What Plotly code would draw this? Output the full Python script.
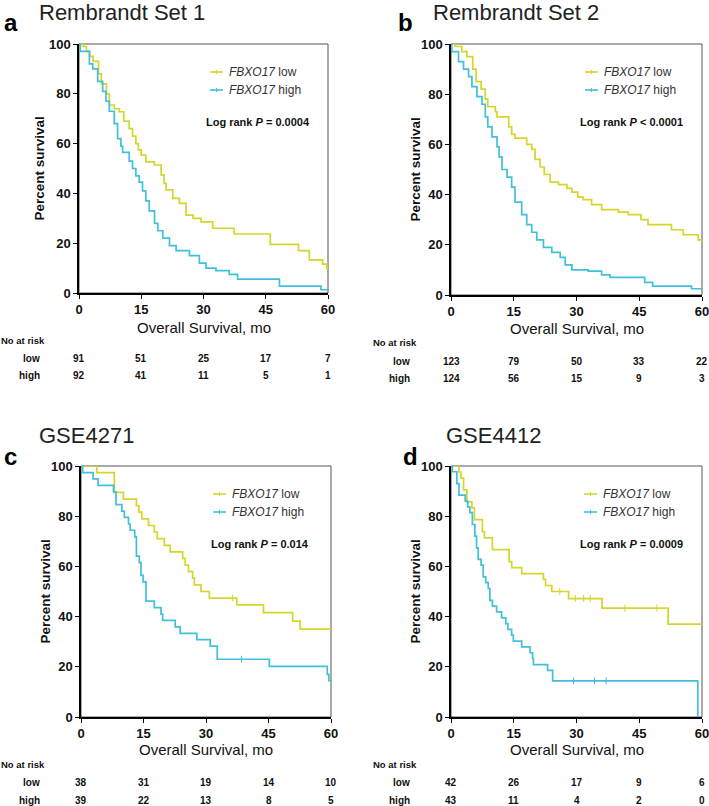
import plotly.graph_objects as go

W, H = 709, 806
FONT = "Liberation Sans"
YEL = "#d5d52c"
CYA = "#41c0dc"

# ---------------- data ----------------
titles = ["Rembrandt Set 1", "Rembrandt Set 2", "GSE4271", "GSE4412"]
letters = ["a", "b", "c", "d"]
pvals = ["Log rank <i>P</i> = 0.0004", "Log rank <i>P</i> < 0.0001",
         "Log rank <i>P</i> = 0.014", "Log rank <i>P</i> = 0.0009"]

a_low_t = [0, 1.0, 1.8, 2.6, 3.4, 4.7, 5.4, 6.6, 7.3, 8.5, 9.7, 10.8, 12.1, 12.9, 13.7, 14.3, 15.0, 16.1,
           18.2, 19.8, 20.5, 21.0, 22.6, 24.2, 25.8, 27.5, 29.4, 32.2, 37.4, 46.1, 52.9, 55.5, 58.7, 59.7, 60]
a_low_s = [100, 99, 97, 95, 93, 88, 84, 80, 75.5, 74, 72.8, 69, 66, 63, 60, 57.5, 55.4, 52.7,
           51.4, 47.4, 44, 41.4, 38, 36, 31.3, 30, 28.6, 26, 23.7, 19.5, 17, 13.3, 11.6, 9.9, 9.9]
a_high_t = [0, 0.3, 2.5, 3.3, 4.5, 5.7, 6.5, 7.3, 8.5, 9.3, 10.1, 10.5, 12.1, 12.9, 13.7, 14.5, 15.3, 16.1,
            16.9, 18.2, 19.0, 20.2, 21.8, 23.4, 26.6, 29.0, 30.6, 33.0, 36.2, 38.2, 48.3, 58.3, 60]
a_high_s = [100, 97, 92, 90, 85, 81, 77, 73, 68, 62, 59, 56.5, 53, 50, 47, 44.5, 41, 37,
            33, 28, 25, 22, 19, 17, 15, 12, 10, 9, 7.5, 5.6, 2.8, 1.3, 1.3]

b_low_t = [0, 1.0, 2.6, 3.8, 5.2, 6.0, 7.2, 8.2, 8.8, 10.6, 11.0, 13.8, 14.5, 15.3, 18.1, 19.3, 20.1, 21.3,
           22.3, 23.7, 25.7, 27.7, 28.9, 30.3, 31.6, 33.6, 36.0, 40.0, 42.4, 45.4, 47.1, 52.7, 55.5, 59.1, 60]
b_low_s = [100, 99, 97, 95, 90, 85, 82, 78, 75, 73, 71, 67, 64, 62.5, 60, 58, 54, 51,
           48, 45, 44, 42.5, 41, 39, 38, 36, 34, 33, 32, 30, 28, 26, 24, 22, 21]
b_high_t = [0, 0.2, 1.8, 3.0, 4.2, 5.0, 6.2, 7.4, 8.2, 8.8, 9.8, 11.0, 11.5, 12.2, 13.4, 14.5, 15.3, 16.9,
            18.1, 19.3, 20.5, 22.1, 24.1, 26.1, 27.3, 28.9, 32.8, 36.0, 38.0, 46.3, 48.2, 57.5, 60]
b_high_s = [100, 97, 93, 90, 87, 83, 79, 76, 71, 67, 63, 59, 55, 50, 47, 43, 37, 32,
            28, 25, 22, 19, 17, 15, 12, 10, 9.5, 8, 7, 5, 3.5, 2.5, 2.5]

c_low_t = [0, 3.8, 8.0, 10.2, 13.3, 13.9, 14.6, 16.2, 17.6, 18.3, 20.0, 21.4, 24.4, 25.0, 25.8, 26.8, 27.2,
           28.8, 30.8, 37.4, 43.8, 50.8, 52.6, 60]
c_low_s = [100, 97.4, 89.5, 86.8, 84.2, 81.6, 78.9, 76.3, 73.7, 71.1, 68.4, 65.8, 63.2, 60.5, 57.9, 55.3, 52.6,
           50.0, 47.4, 44.7, 41.6, 38.2, 35.0, 35.0]
c_high_t = [0, 0.4, 2.9, 4.1, 7.8, 8.4, 9.8, 10.4, 11.4, 11.8, 12.9, 13.3, 14.0, 14.4, 14.9, 15.6, 17.6,
            19.2, 19.6, 22.6, 23.8, 27.8, 31.0, 32.7, 45.2, 59.1, 59.5, 60]
c_high_s = [100, 97.4, 94.9, 92.3, 89.7, 84.6, 82.0, 79.5, 76.9, 74.4, 71.8, 64.1, 61.5, 56.4, 53.8, 46.2, 43.6,
            41.0, 38.5, 35.9, 33.3, 30.8, 28.2, 23.0, 20.2, 17.0, 14.5, 14.5]

d_low_t = [0, 1.9, 2.4, 3.0, 3.8, 5.0, 5.6, 7.5, 8.0, 9.9, 13.9, 14.5, 16.9, 22.1, 22.6, 24.1, 28.1, 36.1,
           51.9, 60]
d_low_s = [100, 97.6, 95.2, 90.5, 85.7, 83.3, 78.6, 73.8, 71.4, 66.7, 61.9, 59.5, 57.1, 54.8, 52.4, 50.0, 47.2, 43.4,
           37.0, 37.0]
d_high_t = [0, 0.3, 1.4, 1.9, 3.4, 4.0, 4.5, 5.1, 5.7, 6.1, 6.5, 7.2, 7.7, 8.3, 8.9, 9.3, 9.9, 10.9, 12.1,
            13.1, 13.6, 14.5, 14.9, 16.9, 18.9, 19.5, 19.7, 23.1, 24.3, 59.0]
d_high_s = [100, 97.7, 93.0, 88.4, 86.0, 83.7, 81.4, 76.7, 72.1, 67.4, 62.8, 60.5, 55.8, 53.5, 51.2, 46.5, 44.2, 41.9,
            39.5, 37.2, 34.9, 32.6, 30.2, 27.9, 25.6, 23.3, 20.9, 18.6, 14.4, 0.0]

# censored observations (visible tick marks)
c_low_cens_t, c_low_cens_s = [36.4], [47.4]
c_high_cens_t, c_high_cens_s = [38.5], [23.0]
d_low_cens_t = [26.0, 29.7, 31.7, 33.3, 41.6, 49.2]
d_low_cens_s = [50.0, 47.2, 47.2, 47.2, 43.4, 43.4]
d_high_cens_t = [29.3, 34.3, 37.1]
d_high_cens_s = [14.4, 14.4, 14.4]

risk_times = [0, 15, 30, 45, 60]
a_risk_low = [91, 51, 25, 17, 7]
a_risk_high = [92, 41, 11, 5, 1]
b_risk_low = [123, 79, 50, 33, 22]
b_risk_high = [124, 56, 15, 9, 3]
c_risk_low = [38, 31, 19, 14, 10]
c_risk_high = [39, 22, 13, 8, 5]
d_risk_low = [42, 26, 17, 9, 6]
d_risk_high = [43, 11, 4, 2, 0]

curves = [(a_low_t, a_low_s, a_high_t, a_high_s),
          (b_low_t, b_low_s, b_high_t, b_high_s),
          (c_low_t, c_low_s, c_high_t, c_high_s),
          (d_low_t, d_low_s, d_high_t, d_high_s)]
censors = [None, None,
           (c_low_cens_t, c_low_cens_s, c_high_cens_t, c_high_cens_s),
           (d_low_cens_t, d_low_cens_s, d_high_cens_t, d_high_cens_s)]
risks = [(a_risk_low, a_risk_high), (b_risk_low, b_risk_high),
         (c_risk_low, c_risk_high), (d_risk_low, d_risk_high)]

# ---------------- layout geometry (pixels) ----------------
def px(x):
    return x / W

def py(y):
    return 1 - y / H

# plot boxes: left, right, top, bottom
boxes = [(79, 328, 44, 293), (451, 702, 44, 295), (81, 331, 466, 717), (451, 702, 466, 717)]
ytitle_x = [39, 415, 45, 415]
title_pos = [(37, 12), (431, 12), (37, 435), (444, 435)]
letter_pos = [(2, 23), (396, 23), (2, 456), (401, 456)]
xtitle_y = [327, 328, 749, 749]
leg = [(210, 72), (585, 72), (213, 494), (584, 494)]
pv_pos = [(204, 122), (578, 122), (209, 544), (578, 544)]
risk_head = [(-1, 340), (371, 343), (-1, 764), (371, 764)]
risk_lbl_x = [42, 412, 42, 412]
risk_rows = [(358, 376), (361, 379), (782, 800), (782, 800)]

fig = go.Figure()
annotations = []
shapes = []


def ann(text, x, y, size, xanchor="center", yanchor="middle", xref="paper", color="#111", **kw):
    d = dict(text=text, x=x, y=y, xref=xref, yref="paper", xanchor=xanchor, yanchor=yanchor,
             showarrow=False, font=dict(family=FONT, size=size, color=color))
    d.update(kw)
    annotations.append(d)


for i in range(4):
    n = "" if i == 0 else str(i + 1)
    xa, ya = "x" + n, "y" + n
    lt, ls, ht, hs = curves[i]
    fig.add_trace(go.Scatter(x=lt, y=ls, mode="lines", line=dict(color=YEL, width=1.7, shape="hv"),
                             xaxis=xa, yaxis=ya, showlegend=False, cliponaxis=False, hoverinfo="skip"))
    fig.add_trace(go.Scatter(x=ht, y=hs, mode="lines", line=dict(color=CYA, width=1.7, shape="hv"),
                             xaxis=xa, yaxis=ya, showlegend=False, cliponaxis=False, hoverinfo="skip"))
    if censors[i] is not None:
        clt, cls, cht, chs = censors[i]
        for ct, cs, col in [(clt, cls, YEL), (cht, chs, CYA)]:
            fig.add_trace(go.Scatter(x=ct, y=cs, mode="markers", xaxis=xa, yaxis=ya, showlegend=False,
                                     hoverinfo="skip",
                                     marker=dict(symbol="line-ns", size=5, line=dict(color=col, width=1))))
    l, r, t, b = boxes[i]
    axis_common = dict(showline=True, linecolor="black", linewidth=1.5, ticks="outside", ticklen=4,
                       tickwidth=1.2, tickcolor="black", showgrid=False, zeroline=False, automargin=False,
                       ticklabeloverflow="allow",
                       tickfont=dict(family=FONT, size=13, color="#111", weight="bold"))
    fig.layout["xaxis" + n] = dict(domain=[px(l), px(r)], anchor=ya, range=[0, 60],
                                   tickvals=risk_times, **axis_common)
    fig.layout["yaxis" + n] = dict(domain=[py(b), py(t)], anchor=xa, range=[0, 100],
                                   tickvals=[0, 20, 40, 60, 80, 100], **axis_common)
    # gray frame
    shapes.append(dict(type="rect", xref=xa + " domain", yref=ya + " domain", x0=0, x1=1, y0=0, y1=1,
                       line=dict(color="#555", width=1), layer="below"))
    # titles
    ann(titles[i], px(title_pos[i][0]), py(title_pos[i][1]), 22, xanchor="left", color="#222")
    ann("<b>" + letters[i] + "</b>", px(letter_pos[i][0]), py(letter_pos[i][1]), 24, xanchor="left", color="#000")
    ann("<b>Percent survival</b>", px(ytitle_x[i]), py((t + b) / 2), 13.5, textangle=-90)
    ann("Overall Survival, mo", px((l + r) / 2), py(xtitle_y[i]), 15)
    # legend
    lx, ly = leg[i]
    for k, (col, lab) in enumerate([(YEL, "low"), (CYA, "high")]):
        yy = py(ly + 18 * k)
        shapes.append(dict(type="line", xref="paper", yref="paper", x0=px(lx), x1=px(lx + 13), y0=yy, y1=yy,
                           line=dict(color=col, width=1.6)))
        shapes.append(dict(type="line", xref="paper", yref="paper", x0=px(lx + 6.5), x1=px(lx + 6.5),
                           y0=py(ly + 18 * k - 2), y1=py(ly + 18 * k + 2), line=dict(color=col, width=1)))
        ann("<i>FBXO17</i> " + lab, px(lx + 17), yy, 12, xanchor="left", color="#333")
    ann("<b>" + pvals[i] + "</b>", px(pv_pos[i][0]), py(pv_pos[i][1]), 11, xanchor="left")
    # risk table
    ann("<b>No at risk</b>", px(risk_head[i][0]), py(risk_head[i][1]), 9.5, xanchor="left")
    for k, lab in enumerate(["low", "high"]):
        yy = py(risk_rows[i][k])
        ann("<b>" + lab + "</b>", px(risk_lbl_x[i]), yy, 10, xanchor="right")
        for tv, nv in zip(risk_times, risks[i][k]):
            ann("<b>%d</b>" % nv, tv, yy, 10, xref=xa)

fig.update_layout(width=W, height=H, margin=dict(l=0, r=0, t=0, b=0, autoexpand=False), paper_bgcolor="white",
                  plot_bgcolor="white", annotations=annotations, shapes=shapes, showlegend=False)
fig.write_html("out.html", config={"displayModeBar": False},
               post_script="document.body.style.margin='0';document.body.style.overflow='hidden';")
